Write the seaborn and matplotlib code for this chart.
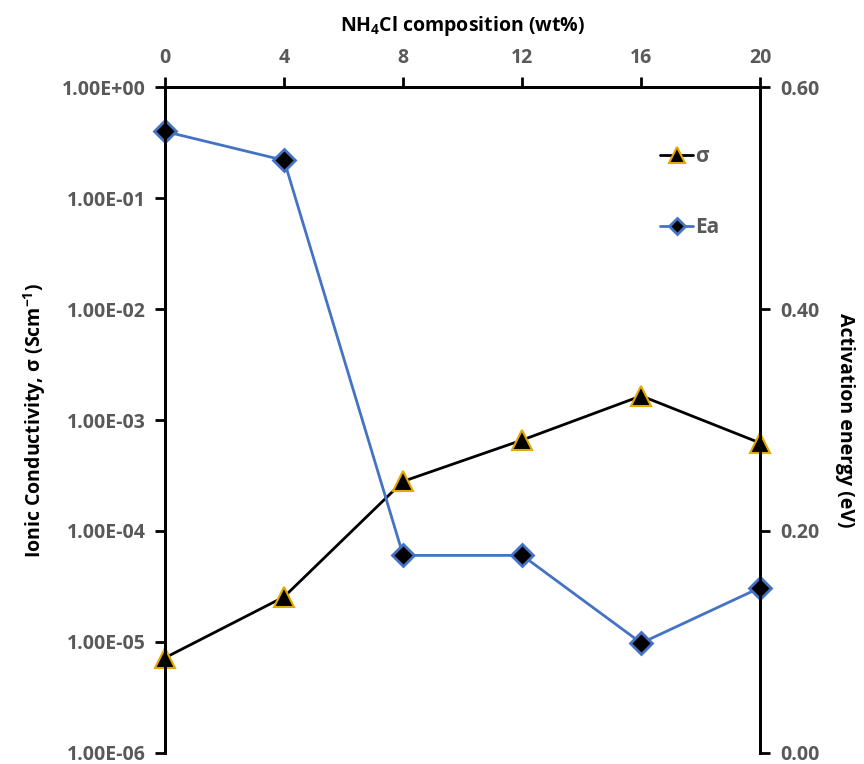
"""
Ionic conductivity and activation energy vs NH4Cl composition.
"""
import pandas as pd
import seaborn as sns
import matplotlib.pyplot as plt
from matplotlib.ticker import FuncFormatter, NullLocator, FixedLocator
from matplotlib.lines import Line2D

# data
composition = [0, 4, 8, 12, 16, 20]
sigma = [7.2e-6, 2.55e-5, 2.8e-4, 6.6e-4, 1.65e-3, 6.2e-4]
ea = [0.560, 0.534, 0.178, 0.178, 0.099, 0.149]
x_ticks = [0, 4, 8, 12, 16, 20]
ea_ticks = [0.0, 0.2, 0.4, 0.6]

df = pd.DataFrame({'comp': composition, 'sigma': sigma, 'ea': ea})

sns.set_style('white')
plt.rcParams['font.family'] = ['Open Sans', 'DejaVu Sans']
plt.rcParams['mathtext.fontset'] = 'custom'
plt.rcParams['mathtext.rm'] = 'Open Sans:bold'
plt.rcParams['mathtext.default'] = 'rm'

grey = '#595959'
blue = '#4472C4'
gold = '#E6A800'

fig = plt.figure(figsize=(8.64, 7.64), dpi=100)
ax = fig.add_axes([0.191, 0.0145, 0.689, 0.8715])
ax2 = ax.twinx()

sns.lineplot(x='comp', y='sigma', data=df, ax=ax, color='black', linewidth=2,
             marker='^', markersize=15, markerfacecolor='black',
             markeredgecolor=gold, markeredgewidth=1.5, clip_on=False)
sns.lineplot(x='comp', y='ea', data=df, ax=ax2, color=blue, linewidth=2,
             marker='D', markersize=11, markerfacecolor='black',
             markeredgecolor=blue, markeredgewidth=2, clip_on=False)

label_font = {'fontsize': 14, 'fontweight': 'bold', 'color': 'black'}

# left log axis
ax.set_yscale('log')
ax.set_ylim(1e-6, 1)
ax.yaxis.set_major_locator(FixedLocator([10.0 ** k for k in range(-6, 1)]))
ax.yaxis.set_minor_locator(NullLocator())
ax.yaxis.set_major_formatter(FuncFormatter(lambda v, p: f'{v:.2E}'))
ax.set_ylabel('Ionic Conductivity, σ (Scm$^{-1}$)', labelpad=10, **label_font)

# top x axis
ax.set_xlim(0, 20)
ax.set_xticks(x_ticks)
ax.xaxis.tick_top()
ax.xaxis.set_label_position('top')
ax.set_xlabel('NH$_4$Cl composition (wt%)', labelpad=12, **label_font)

# right linear axis
ax2.set_ylim(0, 0.6)
ax2.set_yticks(ea_ticks)
ax2.yaxis.set_major_formatter(FuncFormatter(lambda v, p: f'{v:.2f}'))
ax2.set_ylabel('Activation energy (eV)', rotation=270, labelpad=26, **label_font)

for a in (ax, ax2):
    a.grid(False)
    a.spines['bottom'].set_visible(False)
    for s in ('top', 'left', 'right'):
        a.spines[s].set_linewidth(2)
        a.spines[s].set_color('black')
    a.tick_params(direction='out', length=7, width=2, colors='black',
                  labelcolor=grey, labelsize=14, pad=7)
    for lab in a.get_xticklabels() + a.get_yticklabels():
        lab.set_fontweight('bold')
ax.tick_params(axis='x', bottom=False, top=True, labelbottom=False, labeltop=True)
ax2.tick_params(axis='x', bottom=False, top=False)

# legend
handles = [
    Line2D([], [], color='black', linewidth=2, marker='^', markersize=11,
           markerfacecolor='black', markeredgecolor=gold, markeredgewidth=1.5),
    Line2D([], [], color=blue, linewidth=2, marker='D', markersize=8,
           markerfacecolor='black', markeredgecolor=blue, markeredgewidth=2),
]
leg = ax2.legend(handles, ['σ', 'Ea'], loc='upper left',
                 bbox_to_anchor=(0.8, 0.94), frameon=False, labelspacing=2.4,
                 handlelength=1.6, handletextpad=0.1,
                 prop={'size': 15, 'weight': 'bold'})
for t in leg.get_texts():
    t.set_color(grey)

plt.savefig('out.png', dpi=100)
plt.close()
